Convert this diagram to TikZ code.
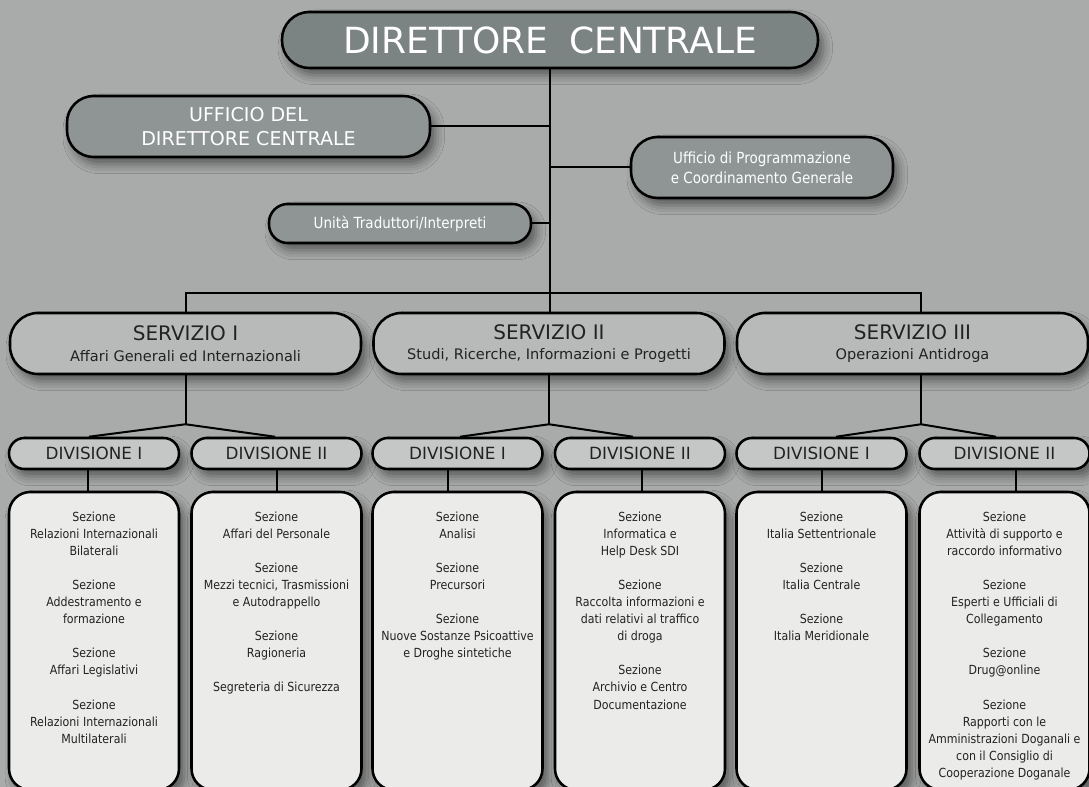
\documentclass[tikz,border=0pt]{standalone}
\usepackage{fontspec}
\setmainfont{DejaVu Sans}
\newfontfamily\tah[FakeStretch=0.88]{DejaVu Sans}
\usetikzlibrary{shadows.blur}

\definecolor{bg}{RGB}{169,171,170}
\definecolor{topfill}{RGB}{124,132,131}
\definecolor{uffill}{RGB}{142,149,148}
\definecolor{svfill}{RGB}{184,186,185}
\definecolor{dvfill}{RGB}{197,199,198}
\definecolor{bxfill}{RGB}{235,236,234}
\definecolor{txt}{RGB}{34,34,34}

\begin{document}
\begin{tikzpicture}[x=0.75pt,y=-0.75pt,
  base/.style={draw=black, line width=1.9pt, inner sep=0pt, align=center,
    blur shadow={shadow xshift=4pt, shadow yshift=-5.5pt, shadow blur radius=7pt, shadow opacity=48}},
  sz/.style 2 args={minimum width=#1*0.75pt, minimum height=#2*0.75pt},
  topbox/.style={base, fill=topfill, text=white, rounded corners=20.5pt},
  ufbox/.style={base, fill=uffill, text=white},
  svbox/.style={base, fill=svfill, text=txt, rounded corners=21pt, sz={351}{61},
    font=\fontsize{10.9}{15.4}\selectfont},
  dvbox/.style={base, fill=dvfill, text=txt, rounded corners=11.5pt, sz={170}{31},
    font=\fontsize{12.6}{15}\selectfont},
  bxbox/.style={base, fill=bxfill, rounded corners=16pt, sz={170}{298}},
  bxtext/.style={anchor=north, inner sep=0pt, align=center, text=txt,
    font=\tah\fontsize{9.4}{12.8}\selectfont},
  conn/.style={draw=black, line width=1.5pt}
]
\useasboundingbox (0,0) rectangle (1089,787);
\clip (0,0) rectangle (1089,787);
\fill[bg] (0,0) rectangle (1089,787);

% top level
\node[topbox, sz={536}{56}, font=\fontsize{27}{30}\selectfont] (dc) at (550,40) {DIRETTORE\hspace{0.25em} CENTRALE};
\node[ufbox, rounded corners=20pt, sz={363}{61}, font=\fontsize{14.3}{18}\selectfont] (udc) at (248.5,126.5) {UFFICIO DEL\\DIRETTORE CENTRALE};
\node[ufbox, rounded corners=20pt, sz={262}{61}, font=\tah\fontsize{11.5}{15}\selectfont] (upc) at (762,167.5) {Ufficio di Programmazione\\e Coordinamento Generale};
\node[ufbox, rounded corners=14pt, sz={262}{39}, font=\tah\fontsize{11.5}{14}\selectfont] (ut) at (400,223.5) {Unità Traduttori/Interpreti};

% servizi
\node[svbox] (s1) at (185.5,343.5) {{\fontsize{15}{15.4}\selectfont SERVIZIO I}\\Affari Generali ed Internazionali};
\node[svbox] (s2) at (549,343.5) {{\fontsize{15}{15.4}\selectfont SERVIZIO II}\\Studi, Ricerche, Informazioni e Progetti};
\node[svbox] (s3) at (912.5,343.5) {{\fontsize{15}{15.4}\selectfont SERVIZIO III}\\Operazioni Antidroga};

% divisioni
\node[dvbox] (d1) at (94,453.5) {DIVISIONE I};
\node[dvbox] (d2) at (276.5,453.5) {DIVISIONE II};
\node[dvbox] (d3) at (457.5,453.5) {DIVISIONE I};
\node[dvbox] (d4) at (640,453.5) {DIVISIONE II};
\node[dvbox] (d5) at (821.5,453.5) {DIVISIONE I};
\node[dvbox] (d6) at (1004.5,453.5) {DIVISIONE II};

% sezioni boxes
\node[bxbox] (b1) at (94,641) {};
\node[bxbox] (b2) at (276.5,641) {};
\node[bxbox] (b3) at (457.5,641) {};
\node[bxbox] (b4) at (640,641) {};
\node[bxbox] (b5) at (821.5,641) {};
\node[bxbox] (b6) at (1004.5,641) {};

\node[bxtext] (t1) at (94,511.5) {Sezione\\Relazioni Internazionali\\Bilaterali\\[12.8pt]Sezione\\Addestramento e\\formazione\\[12.8pt]Sezione\\Affari Legislativi\\[12.8pt]Sezione\\Relazioni Internazionali\\Multilaterali};
\node[bxtext] (t2) at (276.5,511.5) {Sezione\\Affari del Personale\\[12.8pt]Sezione\\Mezzi tecnici, Trasmissioni\\e Autodrappello\\[12.8pt]Sezione\\Ragioneria\\[12.8pt]Segreteria di Sicurezza};
\node[bxtext] (t3) at (457.5,511.5) {Sezione\\Analisi\\[12.8pt]Sezione\\Precursori\\[12.8pt]Sezione\\Nuove Sostanze Psicoattive\\e Droghe sintetiche};
\node[bxtext] (t4) at (640,511.5) {Sezione\\Informatica e\\Help Desk SDI\\[12.8pt]Sezione\\Raccolta informazioni e\\dati relativi al traffico\\di droga\\[12.8pt]Sezione\\Archivio e Centro\\Documentazione};
\node[bxtext] (t5) at (821.5,511.5) {Sezione\\Italia Settentrionale\\[12.8pt]Sezione\\Italia Centrale\\[12.8pt]Sezione\\Italia Meridionale};
\node[bxtext] (t6) at (1004.5,511.5) {Sezione\\Attività di supporto e\\raccordo informativo\\[12.8pt]Sezione\\Esperti e Ufficiali di\\Collegamento\\[12.8pt]Sezione\\Drug@online\\[12.8pt]Sezione\\Rapporti con le\\Amministrazioni Doganali e\\con il Consiglio di\\Cooperazione Doganale};

% connectors top
\draw[conn] (dc.south) -- (dc.south |- s2.north);
\draw[conn] (udc.east) -- (udc.east -| dc.south);
\draw[conn] (upc.west) -- (upc.west -| dc.south);
\draw[conn] (ut.east) -- (ut.east -| dc.south);
\draw[conn] (s1.north) -- ++(0,-19) coordinate (busL) -| ([xshift=6.4pt]s3.north);

% servizio -> divisioni
\draw[conn] (s1.south) -- ++(0,49) coordinate (j1);
\draw[conn] (j1) -- ([xshift=-3.8pt]d1.north);
\draw[conn] (j1) -- ([xshift=-1.1pt]d2.north);
\draw[conn] (s2.south) -- ++(0,49) coordinate (j2);
\draw[conn] (j2) -- ([xshift=1.9pt]d3.north);
\draw[conn] (j2) -- ([xshift=-5.2pt]d4.north);
\draw[conn] ([xshift=6.4pt]s3.south) -- ++(0,49) coordinate (j3);
\draw[conn] (j3) -- ([xshift=10.9pt]d5.north);
\draw[conn] (j3) -- ([xshift=-6.4pt]d6.north);

% divisioni -> sezioni
\draw[conn] ([xshift=-4.5pt]d1.south) -- ([xshift=-4.5pt]b1.north);
\draw[conn] (d2.south) -- (b2.north);
\draw[conn] ([xshift=-7.1pt]d3.south) -- ([xshift=-7.1pt]b3.north);
\draw[conn] ([xshift=1.5pt]d4.south) -- ([xshift=1.5pt]b4.north);
\draw[conn] (d5.south) -- (b5.north);
\draw[conn] ([xshift=8.6pt]d6.south) -- ([xshift=8.6pt]b6.north);
\end{tikzpicture}
\end{document}
